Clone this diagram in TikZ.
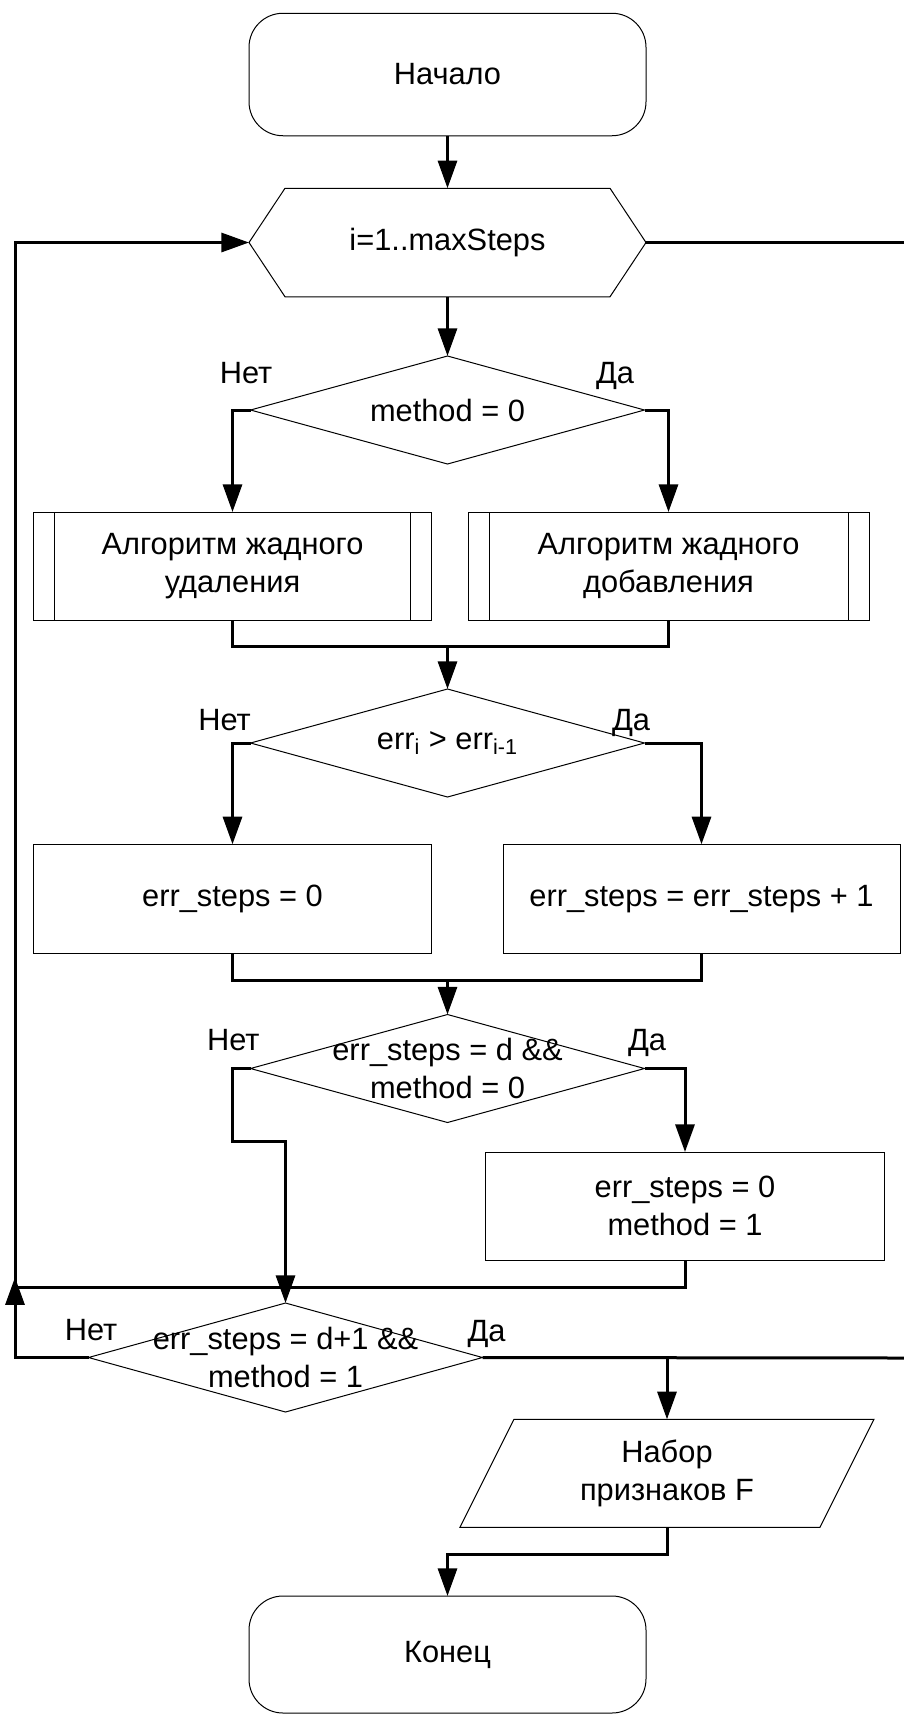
\documentclass[tikz,border=0pt]{standalone}
\usepackage{fontspec}
\setmainfont{Liberation Sans}
\usetikzlibrary{arrows.meta,shapes.geometric}

\begin{document}
\begin{tikzpicture}[x=0.5pt,y=-0.5pt,>={Triangle[length=13.8pt,width=9.5pt]},
  font=\fontsize{15.4}{19}\selectfont,
  every node/.style={inner sep=0pt,outer sep=0pt,align=center},
  thinline/.style={line width=0.5pt},
  termbox/.style={draw,thinline,rounded corners=17pt,minimum width=198.5pt},
  procbox/.style={draw,thinline,minimum height=54pt},
  subproc/.style={procbox,path picture={
      \draw[thinline] ([xshift=10.5pt]path picture bounding box.north west) -- ([xshift=10.5pt]path picture bounding box.south west);
      \draw[thinline] ([xshift=-10.5pt]path picture bounding box.north east) -- ([xshift=-10.5pt]path picture bounding box.south east);}},
  ifbox/.style={draw,thinline,diamond,minimum width=197pt,minimum height=54pt},
  flow/.style={line width=1.5pt},
  lbl/.style={anchor=base}]
  \useasboundingbox (0,0) rectangle (904,1715);

  % start and loop header
  \node[termbox,minimum height=61.25pt] (start) at (447.5,74.5) {Начало};
  \node[minimum width=198.5pt,minimum height=54.25pt] (loop) at (447.5,242.5) {i=1..maxSteps};
  \draw[thinline] (loop.west) -- ([xshift=18pt]loop.north west) -- ([xshift=-18pt]loop.north east)
    -- (loop.east) -- ([xshift=-18pt]loop.south east) -- ([xshift=18pt]loop.south west) -- cycle;

  % choice of algorithm
  \node[ifbox,label={center:method = 0}] (meth) at (447.5,410) {};
  \node[subproc,minimum width=199pt] (algdel) at (232.5,566) {Алгоритм жадного\\удаления};
  \node[subproc,minimum width=200.5pt] (algadd) at (668.5,566) {Алгоритм жадного\\добавления};
  \node[lbl] (n1) at (246,383) {Нет};
  \node[lbl] (y1) at (615,383) {Да};

  % error check
  \node[ifbox,label={center:err\textsubscript{i} > err\textsubscript{i-1}}] (errcmp) at (447.5,743) {};
  \node[procbox,minimum width=199pt,minimum height=54.5pt] (zero) at (232.5,898.8) {err\_steps = 0};
  \node[procbox,minimum width=198.5pt,minimum height=54.5pt] (incr) at (701.5,898.8) {err\_steps = err\_steps + 1};
  \node[lbl] (n2) at (224.5,730) {Нет};
  \node[lbl] (y2) at (631,730) {Да};

  % switch method
  \node[ifbox,label={center:err\_steps = d \&\&\\method = 0}] (stop0) at (447.5,1068.5) {};
  \node[procbox,minimum width=199.5pt] (reset) at (685,1206) {err\_steps = 0\\method = 1};
  \node[lbl] (n3) at (233.3,1050.7) {Нет};
  \node[lbl] (y3) at (647,1050) {Да};

  % exit check
  \node[ifbox,minimum height=54.5pt,label={center:err\_steps = d+1 \&\&\\method = 1}] (stop1) at (285.5,1357.5) {};
  \node[lbl] (n4) at (91,1340) {Нет};
  \node[lbl] (y4) at (486.5,1341.7) {Да};

  % output and end
  \node[minimum width=180pt,minimum height=54pt] (feat) at (667,1473.3) {Набор\\признаков F};
  \draw[thinline] ([xshift=13.5pt]feat.north west) -- ([xshift=13.5pt]feat.north east)
    -- ([xshift=-13.5pt]feat.south east) -- ([xshift=-13.5pt]feat.south west) -- cycle;
  \node[termbox,minimum height=58.5pt] (finish) at (447.5,1654.5) {Конец};

  \coordinate (j1) at (447.5,646.7);
  \coordinate (j2) at (447.5,980);
  \coordinate (k1) at (232.5,1141);
  \coordinate (jl) at (15,1287.3);
  \coordinate (j3) at (447.5,1554.3);
  \coordinate (outA) at (904,242.5);
  \coordinate (outB) at (904,1358);

  \draw[flow,->] (start.south) -- (loop.south |- loop.north);
  \draw[flow,->] (loop.south) -- (meth.north);
  \draw[flow,->] (meth.west) -| (algdel.north);
  \draw[flow,->] (meth.east) -| (algadd.north);
  \draw[flow] (algdel.south) |- (j1) -| (algadd.south);
  \draw[flow,->] (j1) -- (errcmp.north);
  \draw[flow,->] (errcmp.west) -| (zero.north);
  \draw[flow,->] (errcmp.east) -| (incr.north);
  \draw[flow] (zero.south) |- (j2) -| (incr.south);
  \draw[flow,->] (j2) -- (stop0.north);
  \draw[flow,->] (stop0.west) -| (k1) -| (stop1.north);
  \draw[flow,->] (stop0.east) -| (reset.north);
  \draw[flow] (reset.south) |- (jl);
  \draw[flow,->] (stop1.west) -| ([yshift=5pt]jl);
  \draw[flow,->] (jl) |- (loop.west);
  \draw[flow] (loop.east) -- (outA);
  \draw[flow] (stop1.east) -- (outB);
  \draw[flow,->] (stop1.east -| feat.north) -- (feat.north);
  \draw[flow,->] (feat.south) |- (j3) -- (finish.north);
\end{tikzpicture}
\end{document}
